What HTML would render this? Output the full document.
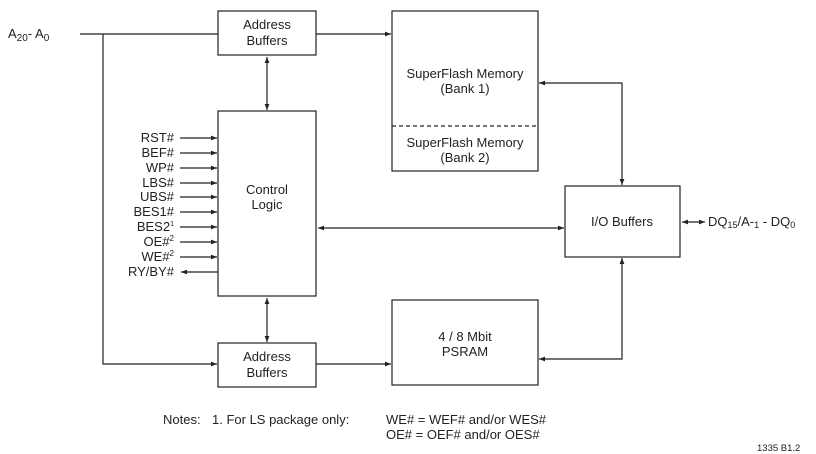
<!DOCTYPE html>
<html><head><style>
html,body{margin:0;padding:0;background:#fff;}
svg{display:block;}
text{font-family:"Liberation Sans",Arial,sans-serif;fill:#222;}
</style></head><body>
<svg width="816" height="454" viewBox="0 0 816 454" xmlns="http://www.w3.org/2000/svg">
<defs>
<marker id="a" viewBox="0 0 10 10" refX="10" refY="5" markerWidth="8" markerHeight="6" orient="auto-start-reverse" markerUnits="userSpaceOnUse"><path d="M0,1 L10,5 L0,9 z" fill="#222"/></marker>
</defs>
<g stroke="#222" stroke-width="1.2" fill="none">
<rect x="218" y="11" width="98" height="44"/>
<rect x="218" y="111" width="98" height="185"/>
<rect x="218" y="343" width="98" height="44"/>
<rect x="392" y="11" width="146" height="160"/>
<line x1="392" y1="126" x2="538" y2="126" stroke-dasharray="4,3"/>
<rect x="565" y="186" width="115" height="71"/>
<rect x="392" y="300" width="146" height="85"/>
<line x1="80" y1="34" x2="218" y2="34"/>
<polyline points="103,34 103,364 217,364" marker-end="url(#a)"/>
<line x1="316" y1="34" x2="391" y2="34" marker-end="url(#a)"/>
<line x1="316" y1="364" x2="391" y2="364" marker-end="url(#a)"/>
<line x1="267" y1="57" x2="267" y2="110" marker-start="url(#a)" marker-end="url(#a)"/>
<line x1="267" y1="298" x2="267" y2="342" marker-start="url(#a)" marker-end="url(#a)"/>
<polyline points="539,83 622,83 622,185" marker-start="url(#a)" marker-end="url(#a)"/>
<line x1="318" y1="228" x2="564" y2="228" marker-start="url(#a)" marker-end="url(#a)"/>
<polyline points="539,359 622,359 622,258" marker-start="url(#a)" marker-end="url(#a)"/>
<line x1="682" y1="222" x2="705" y2="222" marker-start="url(#a)" marker-end="url(#a)"/>
<line x1="180" y1="138" x2="217" y2="138" marker-end="url(#a)"/>
<line x1="180" y1="153" x2="217" y2="153" marker-end="url(#a)"/>
<line x1="180" y1="168" x2="217" y2="168" marker-end="url(#a)"/>
<line x1="180" y1="183" x2="217" y2="183" marker-end="url(#a)"/>
<line x1="180" y1="197" x2="217" y2="197" marker-end="url(#a)"/>
<line x1="180" y1="212" x2="217" y2="212" marker-end="url(#a)"/>
<line x1="180" y1="227" x2="217" y2="227" marker-end="url(#a)"/>
<line x1="180" y1="242" x2="217" y2="242" marker-end="url(#a)"/>
<line x1="180" y1="257" x2="217" y2="257" marker-end="url(#a)"/>
<line x1="181" y1="272" x2="218" y2="272" marker-start="url(#a)"/>
</g>
<g font-size="13" text-anchor="middle">
<text x="267" y="29">Address</text>
<text x="267" y="45">Buffers</text>
<text x="267" y="194">Control</text>
<text x="267" y="209">Logic</text>
<text x="267" y="361">Address</text>
<text x="267" y="377">Buffers</text>
<text x="465" y="78">SuperFlash Memory</text>
<text x="465" y="93">(Bank 1)</text>
<text x="465" y="147">SuperFlash Memory</text>
<text x="465" y="162">(Bank 2)</text>
<text x="622" y="226">I/O Buffers</text>
<text x="465" y="341">4 / 8 Mbit</text>
<text x="465" y="356">PSRAM</text>
</g>
<g font-size="13" text-anchor="end">
<text x="174" y="142">RST#</text>
<text x="174" y="157">BEF#</text>
<text x="174" y="172">WP#</text>
<text x="174" y="187">LBS#</text>
<text x="174" y="201">UBS#</text>
<text x="174" y="216">BES1#</text>
<text x="174" y="231">BES2<tspan font-size="7" dy="-5">1</tspan></text>
<text x="174" y="246">OE#<tspan font-size="8" dy="-5">2</tspan></text>
<text x="174" y="261">WE#<tspan font-size="8" dy="-5">2</tspan></text>
<text x="174" y="276">RY/BY#</text>
</g>
<text x="8" y="38" font-size="13">A<tspan font-size="10" dy="3">20</tspan><tspan dy="-3">- A</tspan><tspan font-size="10" dy="3">0</tspan></text>
<text x="708" y="226" font-size="13">DQ<tspan font-size="9" dy="2">15</tspan><tspan dy="-2">/A-</tspan><tspan font-size="9" dy="2">1</tspan><tspan dy="-2"> - DQ</tspan><tspan font-size="9" dy="2">0</tspan></text>
<text x="163" y="424" font-size="13">Notes:</text>
<text x="212" y="424" font-size="13">1. For LS package only:</text>
<text x="386" y="424" font-size="13">WE# = WEF# and/or WES#</text>
<text x="386" y="439" font-size="13">OE# = OEF# and/or OES#</text>
<text x="757" y="451" font-size="9.5">1335 B1.2</text>
</svg>
</body></html>
